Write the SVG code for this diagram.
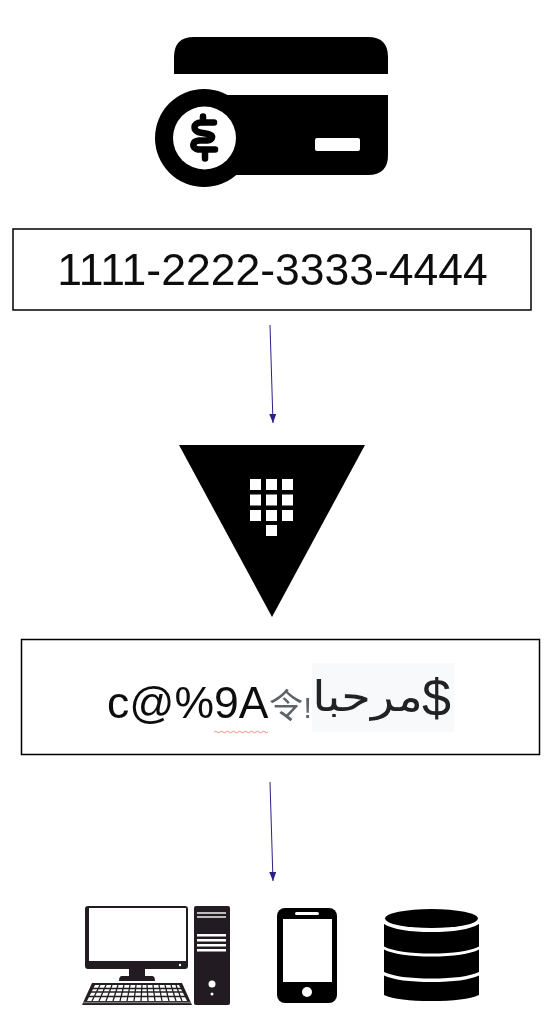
<svg xmlns="http://www.w3.org/2000/svg" width="544" height="1018" viewBox="0 0 544 1018">
<defs>
<marker id="arr" markerWidth="9" markerHeight="7" refX="9" refY="3.500" orient="auto" markerUnits="userSpaceOnUse"><path d="M0,0 L9,3.500 L0,7 Z" fill="#2b2085"/></marker>
<filter id="soft" x="-5%" y="-5%" width="110%" height="110%"><feGaussianBlur stdDeviation="0.45"/></filter>
</defs>
<style>
.box{fill:#fff;stroke:#000;stroke-width:1.5}
.t{font-family:"Liberation Sans",Arial,sans-serif;fill:#111}
.c{fill:none;stroke:#2b2085;stroke-width:1;marker-end:url(#arr)}
.w{fill:#fff}
.k{fill:#000}
.d{fill:#231f20}
.soft{filter:url(#soft)}
</style>
<rect width="544" height="1018" fill="#fff"/>
<g id="card-icon" class="soft">
<path class="k" d="M174,74V57Q174,37 194,37H368Q388,37 388,57V74Z"/>
<path class="k" d="M225,95H388V155Q388,175 368,175H225Z"/>
<circle class="k" cx="204" cy="138" r="49"/>
<circle class="w" cx="204.500" cy="138" r="31.500"/>
<path d="M214,122.500H201C193,122.500 192,131 200,132.500L208,134C214,135.500 213,140 207,140.500H199C192,141 191,148 198,149.500H215" fill="none" stroke="#000" stroke-width="6.500" stroke-linecap="round" stroke-linejoin="round"/>
<path d="M203,116.500V122M205,150V158.500" fill="none" stroke="#000" stroke-width="6.500" stroke-linecap="round"/>
<rect class="w" x="315" y="138" width="45" height="13" rx="2"/>
</g>
<g id="card-number">
<rect class="box" x="13" y="229" width="518" height="81"/>
<text class="t soft" x="272.500" y="285" font-size="44.500" text-anchor="middle">1111-2222-3333-4444</text>
</g>
<g id="vault-icon" class="soft">
<path class="k" d="M179,445H365L272,617Z"/>
<g class="w">
<rect x="250" y="479" width="11" height="11"/><rect x="266" y="479" width="11" height="11"/><rect x="282" y="479" width="11" height="11"/>
<rect x="250" y="494.500" width="11" height="11"/><rect x="266" y="494.500" width="11" height="11"/><rect x="282" y="494.500" width="11" height="11"/>
<rect x="250" y="510" width="11" height="11"/><rect x="266" y="510" width="11" height="11"/><rect x="282" y="510" width="11" height="11"/>
<rect x="266" y="525" width="11" height="11"/>
</g>
</g>
<g id="ciphertext">
<rect class="box" x="21.500" y="639.500" width="518" height="115"/>
<rect x="312" y="663" width="142" height="69" fill="#f8f9fa"/>
<g class="soft">
<text class="t" x="107" y="718" font-size="44.500">c@%9A</text>
<text x="269" y="718" font-size="34" fill="#5f6368" font-family="'Noto Sans CJK SC',sans-serif">令</text>
<text x="303.500" y="718" font-size="30" fill="#5f6368" font-family="'Liberation Sans',sans-serif">!</text>
<text transform="translate(423,711) scale(1.14,1)" x="0" y="0" font-size="42" fill="#202124" text-anchor="start" style="direction:rtl" font-family="'Liberation Sans','DejaVu Sans',sans-serif">مرحبا</text>
<text class="t" x="422" y="716" font-size="52" style="fill:#202124">$</text>
</g>
<path d="M214,732q1.500,-1.500 3,0t3,0t3,0t3,0t3,0t3,0t3,0t3,0t3,0t3,0t3,0t3,0t3,0t3,0t3,0t3,0t3,0t3,0" fill="none" stroke="#f28b82" stroke-width="1"/>
</g>
<g id="connectors">
<path class="c" d="M270,325L273,423"/>
<path class="c" d="M270,782L273,881"/>
</g>
<g id="desktop-icon" class="soft">
<path class="d" d="M88,906H185Q188,906 188,909V966Q188,969 185,969H145V976H152Q155,976 155,981H119Q119,976 122,976H129V969H88Q85,969 85,966V909Q85,906 88,906Z"/>
<rect class="w" x="89" y="908" width="97" height="53"/>
<rect class="d" x="194" y="906" width="36" height="99" rx="2"/>
<g class="w">
<rect x="197" y="912" width="29" height="2" opacity=".7"/><rect x="197" y="916" width="29" height="2" opacity=".7"/>
<rect x="197" y="934" width="29" height="2.500"/><rect x="197" y="939" width="29" height="2.500"/><rect x="197" y="944" width="29" height="2.500"/><rect x="197" y="949" width="29" height="2.500"/>
<circle cx="212" cy="984" r="3.500"/><circle cx="212" cy="994" r="1.500"/>
<circle cx="180" cy="965" r="1.200"/>
</g>
<path class="d" d="M92,983H182L192,1005H82Z"/>
<path class="w" d="M95,985H179L187,1001H87Z"/>
<path d="M91,988.500H183M89,992H185M88,996.500H186M100,985L92,1001M106,985L99,1001M112,985L106,1001M118,985L113,1001M124,985L120,1001M130,985L127,1001M136,985L134,1001M142,985L141,1001M147,985L148,1001M153,985L155,1001M159,985L162,1001M165,985L169,1001M171,985L176,1001M176,985L182,1001" stroke="#231f20" stroke-width="1.300" fill="none"/>
<path d="M83,1002.500H191" stroke="#777" stroke-width="1.500"/>
</g>
<g id="phone-icon" class="soft">
<rect class="k" x="277" y="908" width="60" height="95" rx="8"/>
<rect class="w" x="283" y="919" width="49" height="63"/>
<rect class="w" x="295" y="912" width="24" height="3" rx="1.500"/>
<circle class="w" cx="307" cy="992" r="5"/>
</g>
<g id="database-icon" class="soft">
<ellipse class="k" cx="431.500" cy="918.500" rx="46.500" ry="9.500"/>
<path class="k" d="M384,924Q398,932 431.500,932Q465,932 479,924V946.500Q465,953.500 431.500,953.500Q398,953.500 384,946.500Z"/>
<path class="k" d="M384,949.500Q398,956.500 431.500,956.500Q465,956.500 479,949.500V972Q465,978.500 431.500,978.500Q398,978.500 384,972Z"/>
<path class="k" d="M384,975.500Q398,982 431.500,982Q465,982 479,975.500V995Q465,1001 431.500,1001Q398,1001 384,995Z"/>
</g>
</svg>
